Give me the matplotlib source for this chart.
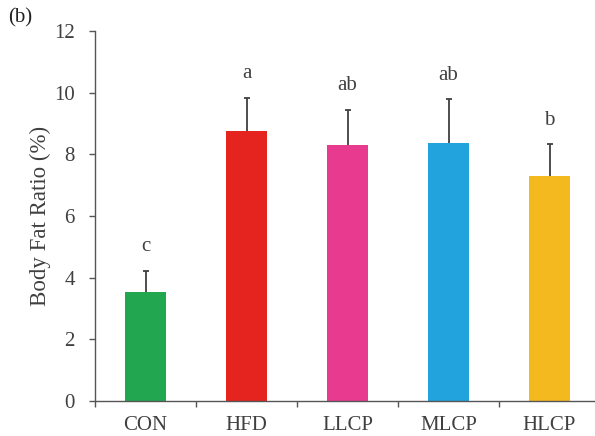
import matplotlib
matplotlib.use("Agg")
import matplotlib.pyplot as plt
import numpy as np

groups = ["CON", "HFD", "LLCP", "MLCP", "HLCP"]
means = [3.55, 8.75, 8.30, 8.36, 7.29]
errors = [0.67, 1.08, 1.14, 1.42, 1.04]
letters = ["c", "a", "ab", "ab", "b"]
colors = ["#22A64F", "#E5231F", "#E83B8F", "#22A3DD", "#F4B91E"]
yticks = [0, 2, 4, 6, 8, 10, 12]

plt.rcParams['font.family'] = ['Liberation Serif', 'DejaVu Serif']
txt = "#404040"
axc = "#555555"
errc = "#404040"

fig = plt.figure(figsize=(5.95, 4.36), dpi=100)
ax = fig.add_axes([95/595, 1 - 401/436, 1 - 95/595, (401 - 31)/436])

x = np.arange(len(groups))
means_a = np.array(means)
errors_a = np.array(errors)
tops = means_a + errors_a

ax.bar(x, means_a, width=0.40, color=colors, zorder=2)
ax.vlines(x, means_a, tops, colors=errc, linewidth=1.3, zorder=3)
ax.plot(x, tops, linestyle='none', marker='_', markersize=5, markeredgewidth=1.3,
        color=errc, zorder=3)

for xi, t, l in zip(x, tops, letters):
    ax.annotate(l, xy=(xi, t), xytext=(0, 14), textcoords='offset points',
                ha='center', va='baseline', fontsize=15, color=txt)

ax.set_xlim(-0.5, (595 - 95) / 101 - 0.5)
ax.set_ylim(0, 12)
ax.set_yticks(yticks)
ax.set_yticklabels([str(v) for v in yticks])
ax.set_xticks(x)
ax.set_xticklabels(groups)
ax.set_xticks(np.arange(-0.5, 4.0, 1.0), minor=True)

for s in ['top', 'right']:
    ax.spines[s].set_visible(False)
for s in ['left', 'bottom']:
    ax.spines[s].set_color(axc)
    ax.spines[s].set_linewidth(1.0)

ax.tick_params(axis='x', which='major', length=0, pad=10.5, labelsize=15, labelcolor=txt)
ax.tick_params(axis='x', which='minor', length=4.5, width=1.0, color=axc, direction='out')
ax.tick_params(axis='y', length=4, width=1.0, color=axc, direction='out', pad=10.5,
               labelsize=15, labelcolor=txt)

ax.set_ylabel("Body Fat Ratio (%)", fontsize=16.5, color=txt, labelpad=2)
fig.text(8/595, 1 - 8/436, "(b)", fontsize=15, color="#222222", ha='left', va='top')

fig.savefig("out.png", dpi=100)
